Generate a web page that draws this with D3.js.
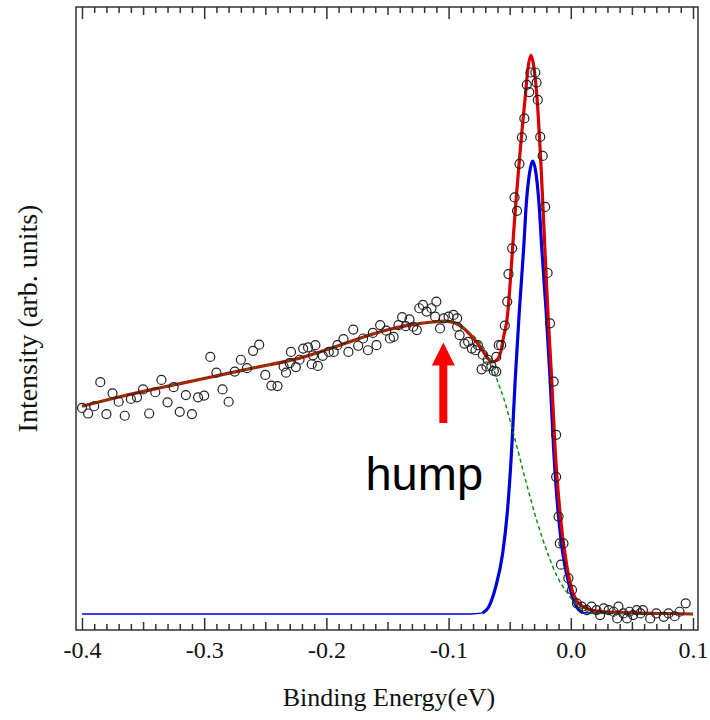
<!DOCTYPE html>
<html>
<head>
<meta charset="utf-8">
<script src="https://cdn.jsdelivr.net/npm/d3@7"></script>
<style>
  body { margin: 0; background: #fff; }
</style>
</head>
<body>
<div id="chart"></div>
<script>
// measured points (binding energy in eV, intensity in arb. units)
const dataE = [-0.400,-0.395,-0.390,-0.385,-0.380,-0.375,-0.370,-0.365,-0.360,-0.355,-0.350,-0.345,-0.340,-0.335,-0.330,-0.325,-0.320,-0.315,-0.310,-0.305,
  -0.300,-0.295,-0.290,-0.285,-0.280,-0.275,-0.270,-0.265,-0.260,-0.255,-0.250,-0.245,-0.240,-0.235,-0.233,-0.230,-0.229,-0.225,-0.222,-0.219,
  -0.215,-0.212,-0.211,-0.209,-0.207,-0.203,-0.198,-0.194,-0.191,-0.186,-0.182,-0.178,-0.174,-0.170,-0.166,-0.162,-0.159,-0.156,-0.151,-0.148,
  -0.145,-0.141,-0.138,-0.135,-0.132,-0.129,-0.126,-0.124,-0.121,-0.118,-0.114,-0.111,-0.110,-0.107,-0.104,-0.100,-0.096,-0.093,-0.093,-0.091,
  -0.087,-0.084,-0.081,-0.078,-0.076,-0.073,-0.072,-0.069,-0.068,-0.065,-0.063,-0.061,-0.061,-0.059,-0.057,-0.054,-0.052,-0.051,-0.048,-0.046,
  -0.044,-0.042,-0.040,-0.038,-0.036,-0.034,-0.033,-0.029,-0.028,-0.027,-0.025,-0.023,-0.021,-0.019,-0.017,-0.014,-0.012,-0.012,-0.010,-0.009,
  -0.008,-0.006,-0.002,0.001,0.005,0.009,0.013,0.017,0.021,0.024,0.027,0.031,0.035,0.038,0.039,0.043,0.046,0.048,0.051,0.054,
  0.057,0.059,0.065,0.070,0.076,0.080,0.085,0.089,0.094];
const dataI = [0.368,0.358,0.371,0.414,0.357,0.394,0.379,0.354,0.384,0.387,0.401,0.358,0.396,0.418,0.378,0.405,0.361,0.391,0.357,0.387,
  0.390,0.459,0.431,0.401,0.379,0.433,0.454,0.439,0.470,0.481,0.427,0.408,0.407,0.442,0.431,0.448,0.468,0.441,0.454,0.474,
  0.476,0.446,0.462,0.480,0.443,0.461,0.468,0.468,0.480,0.491,0.468,0.508,0.479,0.492,0.471,0.502,0.480,0.516,0.506,0.492,
  0.495,0.516,0.530,0.514,0.526,0.513,0.507,0.546,0.552,0.540,0.546,0.531,0.558,0.510,0.528,0.531,0.534,0.528,0.513,0.498,
  0.483,0.486,0.474,0.471,0.480,0.437,0.463,0.442,0.454,0.443,0.434,0.433,0.459,0.480,0.480,0.515,0.558,0.607,0.653,0.744,
  0.720,0.804,0.851,0.885,0.945,0.932,0.967,0.967,0.949,0.918,0.852,0.818,0.727,0.609,0.519,0.415,0.320,0.245,0.174,0.126,
  0.088,0.126,0.064,0.043,0.019,0.013,0.007,0.013,0.007,-0.002,0.010,0.007,0.004,-0.008,0.013,0.001,-0.008,0.004,-0.002,0.007,
  0.001,0.007,-0.008,0.001,-0.005,0.001,-0.004,0.004,0.019];

// total fit (red)
const fitE = [-0.400,-0.369,-0.336,-0.301,-0.263,-0.222,-0.189,-0.156,-0.132,-0.115,-0.103,-0.095,-0.087,-0.082,-0.074,-0.068,-0.064,-0.060,-0.057,-0.055,
  -0.052,-0.050,-0.0469,-0.0448,-0.0424,-0.0399,-0.0375,-0.0350,-0.0326,-0.0301,-0.0277,-0.0244,-0.0219,-0.0187,-0.0156,-0.0129,-0.0088,-0.0031,0.0018,0.0100,
  0.0264,0.100];
const fitI = [0.371,0.388,0.404,0.420,0.438,0.457,0.480,0.504,0.516,0.521,0.523,0.520,0.509,0.498,0.477,0.457,0.450,0.455,0.471,0.495,
  0.529,0.579,0.677,0.739,0.802,0.864,0.918,0.975,0.998,0.975,0.923,0.802,0.686,0.538,0.418,0.298,0.180,0.084,0.038,0.013,
  0.004,0.000];

// background (green dashed)
const bgE = [-0.400,-0.369,-0.336,-0.301,-0.263,-0.222,-0.189,-0.156,-0.132,-0.115,-0.103,-0.095,-0.087,-0.078,-0.070,-0.064,-0.060,-0.055,-0.047,-0.037,
  -0.028,-0.019,-0.011,-0.003,0.005,0.013,0.024,0.100];
const bgI = [0.371,0.388,0.404,0.420,0.438,0.457,0.480,0.504,0.516,0.521,0.523,0.520,0.509,0.493,0.471,0.443,0.416,0.386,0.323,0.239,
  0.168,0.109,0.066,0.038,0.016,0.005,0.001,0.000];

// quasiparticle peak (blue)
const peakE = [-0.400,-0.0825,-0.0721,-0.0672,-0.0615,-0.0557,-0.0520,-0.0484,-0.0455,-0.0422,-0.0385,-0.0365,-0.0340,-0.0312,-0.0283,-0.0259,-0.0238,-0.0201,-0.0169,-0.0140,
  -0.0103,-0.0066,-0.0009,0.0048,0.0097,0.100];
const peakI = [0,0,0.002,0.0125,0.048,0.109,0.180,0.293,0.418,0.538,0.655,0.730,0.784,0.809,0.784,0.730,0.655,0.538,0.418,0.293,
  0.180,0.109,0.048,0.0125,0.002,0];

const majorTicks = [-0.4, -0.3, -0.2, -0.1, 0.0, 0.1];
const tickLabels = ["-0.4", "-0.3", "-0.2", "-0.1", "0.0", "0.1"];

const W = 710, H = 720;
const frame = { left: 76, right: 698, top: 7, bottom: 630 };

const svg = d3.select("#chart").append("svg")
  .attr("width", W)
  .attr("height", H);

const x = d3.scaleLinear().domain([-0.4049, 0.1041]).range([frame.left, frame.right]);
const y = d3.scaleLinear().domain([-0.0286, 1.084]).range([frame.bottom, frame.top]);

const zip = (a, b) => a.map((v, i) => ({ e: v, i: b[i] }));
const points = zip(dataE, dataI);
const fit = zip(fitE, fitI);
const bg = zip(bgE, bgI);
const peak = zip(peakE, peakI);

const line = d3.line()
  .x(d => x(d.e))
  .y(d => y(d.i))
  .curve(d3.curveMonotoneX);

// ticks: 0.01 minor, 0.05 medium, 0.1 major, all pointing inward
const minor = d3.range(-40, 11).filter(k => k % 5 !== 0).map(k => k / 100);
const medium = [-0.35, -0.25, -0.15, -0.05, 0.05];

function drawTicks(axisFn, ty) {
  const groups = [[minor, 6], [medium, 8], [majorTicks, 12]];
  groups.forEach(([vals, len]) => {
    const g = svg.append("g")
      .attr("transform", `translate(0, ${ty})`)
      .call(axisFn(x).tickValues(vals).tickSizeInner(-len).tickSizeOuter(0).tickFormat(""));
    g.select(".domain").remove();
    g.selectAll("line").attr("stroke", "#333").attr("stroke-width", 1.5);
  });
}
drawTicks(d3.axisBottom, frame.bottom);
drawTicks(d3.axisTop, frame.top);

// labels under bottom axis
const lab = svg.append("g")
  .attr("transform", `translate(0, ${frame.bottom})`)
  .call(d3.axisBottom(x).tickValues(majorTicks).tickSize(0).tickPadding(11)
    .tickFormat((d, i) => tickLabels[i]));
lab.select(".domain").remove();
lab.selectAll("text")
  .attr("font-family", "'Liberation Serif', 'Times New Roman', serif")
  .attr("font-size", "24px")
  .attr("fill", "#111");

// frame
svg.append("rect")
  .attr("x", frame.left).attr("y", frame.top)
  .attr("width", frame.right - frame.left).attr("height", frame.bottom - frame.top)
  .attr("fill", "none")
  .attr("stroke", "#333")
  .attr("stroke-width", 1.5);

// curves
svg.append("path")
  .datum(peak)
  .attr("d", line)
  .attr("fill", "none")
  .attr("stroke", "#0000dd")
  .attr("stroke-width", 1.5);

svg.append("path")
  .datum(peak.filter(d => d.i > 0.001))
  .attr("d", line)
  .attr("fill", "none")
  .attr("stroke", "#0000dd")
  .attr("stroke-width", 3.2);

svg.append("path")
  .datum(fit)
  .attr("d", line)
  .attr("fill", "none")
  .attr("stroke", "#d80000")
  .attr("stroke-width", 3.2);

svg.append("path")
  .datum(bg)
  .attr("d", line)
  .attr("fill", "none")
  .attr("stroke", "#008a00")
  .attr("stroke-width", 1.4)
  .attr("stroke-dasharray", "4,3");

// data circles
svg.append("g")
  .selectAll("circle")
  .data(points)
  .join("circle")
  .attr("cx", d => x(d.e))
  .attr("cy", d => y(d.i))
  .attr("r", 4.5)
  .attr("fill", "none")
  .attr("stroke", "#222")
  .attr("stroke-width", 1.2);

// hump annotation (arrow in data units)
const arrowE = -0.1043, arrowFrom = 0.341, arrowTo = 0.485;
const ax = x(arrowE), ay0 = y(arrowFrom), ay1 = y(arrowTo);
const headLen = 23, headHalf = 11.5, shaftHalf = 4;
svg.append("path")
  .attr("d", `M${ax - shaftHalf},${ay0} L${ax - shaftHalf},${ay1 + headLen} L${ax - headHalf},${ay1 + headLen}
    L${ax},${ay1} L${ax + headHalf},${ay1 + headLen} L${ax + shaftHalf},${ay1 + headLen} L${ax + shaftHalf},${ay0} Z`)
  .attr("fill", "#ff0000");

svg.append("text")
  .attr("x", x(-0.168))
  .attr("y", y(0.221))
  .attr("font-family", "'Liberation Sans', Arial, sans-serif")
  .attr("font-size", "47px")
  .attr("fill", "#000")
  .text("hump");

// axis titles
svg.append("text")
  .attr("x", (frame.left + frame.right) / 2 + 2)
  .attr("y", 706)
  .attr("text-anchor", "middle")
  .attr("font-family", "'Liberation Serif', 'Times New Roman', serif")
  .attr("font-size", "26px")
  .attr("fill", "#111")
  .text("Binding Energy(eV)");

svg.append("text")
  .attr("transform", `translate(37, ${(frame.top + frame.bottom) / 2}) rotate(-90)`)
  .attr("text-anchor", "middle")
  .attr("font-family", "'Liberation Serif', 'Times New Roman', serif")
  .attr("font-size", "28px")
  .attr("fill", "#111")
  .text("Intensity (arb. units)");
</script>
</body>
</html>
